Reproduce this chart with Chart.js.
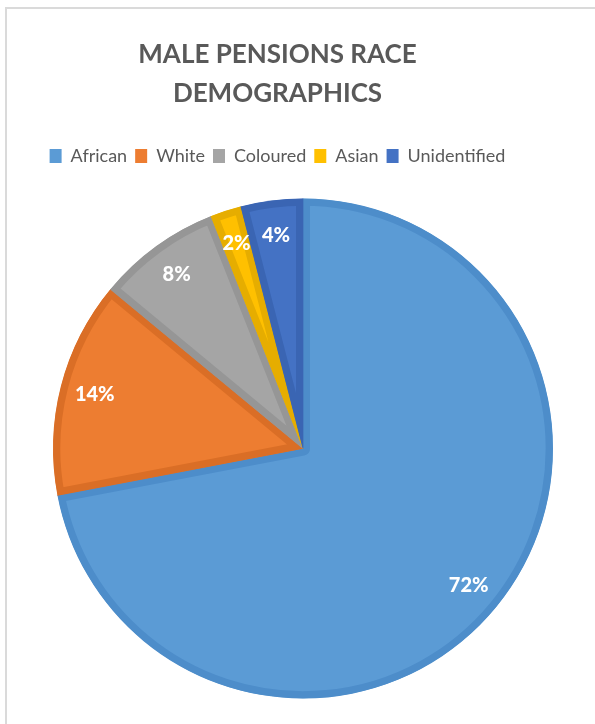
<!DOCTYPE html>
<html>
<head>
<meta charset="utf-8">
<script src="https://cdn.jsdelivr.net/npm/chart.js@4"></script>
<style>
  html, body { margin: 0; padding: 0; background: #fff; }
  #frame {
    position: absolute; left: 5px; top: 7px; width: 600px; height: 730px;
    border-top: 2px solid #dadada; border-left: 2px solid #dadada;
  }
  #wrap { position: absolute; left: 0; top: 0; width: 595px; height: 724px; }
</style>
</head>
<body>
<div id="frame"></div>
<div id="wrap"><canvas id="graficoPensoes" width="595" height="724"></canvas></div>
<script>
  const categorias = ["African", "White", "Coloured", "Asian", "Unidentified"];
  const percentagens = [72, 14, 8, 2, 4];
  const cores = ["#5B9BD5", "#ED7D31", "#A5A5A5", "#FFC000", "#4472C4"];
  const coresBorda = ["#4D8DCA", "#DA6E26", "#969696", "#E6AD00", "#3A65B3"];
  const titulo = ["MALE PENSIONS RACE", "DEMOGRAPHICS"];

  // o título e a legenda ficam centrados mais à esquerda do que a pizza
  const centroPizza = { x: 303, y: 448.5 };

  const moverPizza = {
    id: "moverPizza",
    afterLayout(chart) {
      const a = chart.chartArea;
      const dx = centroPizza.x - (a.left + a.right) / 2;
      const dy = centroPizza.y - (a.top + a.bottom) / 2;
      a.left += dx; a.right += dx;
      a.top += dy; a.bottom += dy;
    }
  };

  // rótulos de percentagem dentro das fatias
  const rotulos = {
    id: "rotulos",
    afterDatasetsDraw(chart) {
      const ctx = chart.ctx;
      const meta = chart.getDatasetMeta(0);
      ctx.save();
      ctx.fillStyle = "#ffffff";
      ctx.font = "900 20px Lato";
      ctx.textAlign = "center";
      ctx.textBaseline = "middle";
      meta.data.forEach((arc, i) => {
        const p = arc.getProps(["x", "y", "startAngle", "endAngle", "outerRadius"], true);
        const meio = (p.startAngle + p.endAngle) / 2;
        const r = p.outerRadius * 0.86;
        ctx.fillText(percentagens[i] + "%", p.x + Math.cos(meio) * r, p.y + Math.sin(meio) * r);
      });
      ctx.restore();
    }
  };

  const ctx = document.getElementById("graficoPensoes").getContext("2d");
  new Chart(ctx, {
    type: "pie",
    data: {
      labels: categorias,
      datasets: [{
        data: percentagens,
        backgroundColor: cores,
        borderColor: coresBorda,
        borderWidth: 7,
        borderAlign: "inner",
        radius: 250
      }]
    },
    options: {
      responsive: false,
      animation: false,
      layout: { padding: { left: 0, right: 40, top: 0, bottom: 0 } },
      plugins: {
        title: {
          display: true,
          text: titulo,
          color: "#595959",
          font: { family: "Lato", size: 26, weight: "bold", lineHeight: 1.5 },
          padding: { top: 35, bottom: 26 }
        },
        legend: {
          position: "top",
          labels: {
            color: "#595959",
            font: { family: "Lato", size: 18 },
            boxWidth: 12,
            boxHeight: 14,
            padding: 8,
            generateLabels(chart) {
              const itens = Chart.overrides.pie.plugins.legend.labels.generateLabels(chart);
              return itens.map(it => ({ ...it, lineWidth: 0, strokeStyle: it.fillStyle }));
            }
          }
        },
        tooltip: { enabled: false }
      }
    },
    plugins: [moverPizza, rotulos]
  });
</script>
</body>
</html>
